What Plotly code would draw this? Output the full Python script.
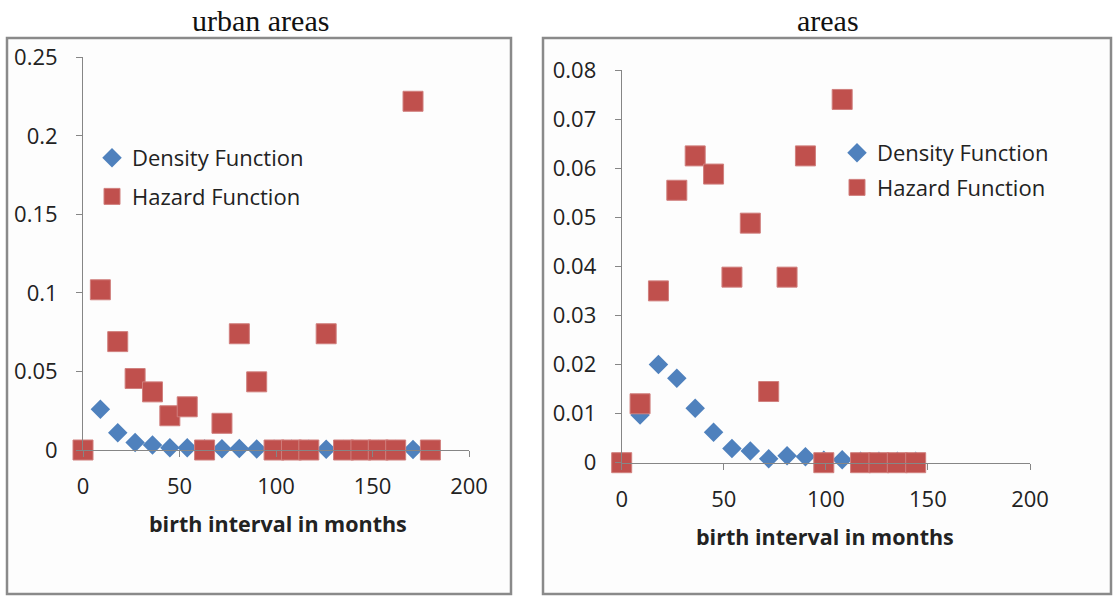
import plotly.graph_objects as go

# ---------------- data ----------------
months_urban = [0, 9, 18, 27, 36, 45, 54, 63, 72, 81, 90, 99, 108, 117, 126, 135, 144, 153, 162, 171, 180]
density_urban = [0.0, 0.026, 0.011, 0.0047, 0.0032, 0.0015, 0.0015, 0.0006, 0.0008, 0.001, 0.0006,
                 0.0004, 0.0004, 0.0004, 0.0005, 0.0003, 0.0003, 0.0003, 0.0003, 0.0003, 0.0]
hazard_urban = [0.0, 0.102, 0.069, 0.0455, 0.037, 0.0218, 0.0275, 0.0, 0.017, 0.074, 0.0434,
                0.0, 0.0, 0.0, 0.074, 0.0, 0.0, 0.0, 0.0, 0.222, 0.0]

months_areas = [0, 9, 18, 27, 36, 45, 54, 63, 72, 81, 90, 99, 108, 117, 126, 135, 144]
density_areas = [0.0, 0.0097, 0.02, 0.0172, 0.0111, 0.0062, 0.0029, 0.0024, 0.0008, 0.0014, 0.0012,
                 0.0005, 0.0006, 0.0003, 0.0003, 0.0003, 0.0003]
hazard_areas = [0.0, 0.012, 0.035, 0.0555, 0.0625, 0.0588, 0.0378, 0.0488, 0.0145, 0.0378, 0.0625,
                0.0, 0.074, 0.0, 0.0, 0.0, 0.0]

titles = ["urban areas", "areas"]
x_title = "birth interval in months"
legend_names = ["Density Function", "Hazard Function"]
x_ticks = [0, 50, 100, 150, 200]
y_ticks_left = [0, 0.05, 0.1, 0.15, 0.2, 0.25]
y_ticks_right = [0, 0.01, 0.02, 0.03, 0.04, 0.05, 0.06, 0.07, 0.08]

# ---------------- style ----------------
W, H = 1113, 597
BLUE = "#4F81BD"
RED = "#C0504D"
AXIS = "#868686"
FONT = "Open Sans"

def px(x):
    return x / W

def py(y):
    return 1 - y / H

fig = go.Figure()

def add_panel(n, months, dens, haz, legend_id):
    xa = "x" if n == 1 else "x2"
    ya = "y" if n == 1 else "y2"
    fig.add_trace(go.Scatter(
        x=months, y=dens, mode="markers", name=legend_names[0],
        marker=dict(symbol="diamond", size=15, color=BLUE, line=dict(width=0)),
        xaxis=xa, yaxis=ya, legend=legend_id, legendgroup="d%d" % n, cliponaxis=False))
    fig.add_trace(go.Scatter(
        x=months, y=haz, mode="markers", name=legend_names[1],
        marker=dict(symbol="square", size=20, color=RED, line=dict(width=1, color="#D07F7D")),
        xaxis=xa, yaxis=ya, legend=legend_id, legendgroup="h%d" % n, cliponaxis=False))

add_panel(1, months_urban, density_urban, hazard_urban, "legend")
add_panel(2, months_areas, density_areas, hazard_areas, "legend2")

axis_common = dict(
    showgrid=False, zeroline=False, showline=True, linecolor=AXIS, linewidth=1,
    ticks="outside", tickcolor=AXIS, ticklen=6, automargin=False,
    tickfont=dict(family=FONT, size=22, color="#222"),
)

fig.update_layout(
    width=W, height=H,
    margin=dict(l=0, r=0, t=0, b=0, pad=0, autoexpand=False),
    paper_bgcolor="white", plot_bgcolor="rgba(0,0,0,0)",
    showlegend=True,
    xaxis=dict(domain=[px(83), px(469)], range=[0, 200], tickvals=x_ticks, anchor="y",
               ticklabelstandoff=11, **axis_common),
    yaxis=dict(domain=[py(450), py(57.3)], range=[0, 0.25], tickvals=y_ticks_left,
               ticktext=[("%g" % v) for v in y_ticks_left], anchor="x",
               ticklabelstandoff=14, **axis_common),
    xaxis2=dict(domain=[px(621.7), px(1030)], range=[0, 200], tickvals=x_ticks, anchor="y2",
                ticklabelstandoff=11, **axis_common),
    yaxis2=dict(domain=[py(462.7), py(70)], range=[0, 0.08], tickvals=y_ticks_right,
                ticktext=[("%g" % v) for v in y_ticks_right], anchor="x2",
                ticklabelstandoff=14, **axis_common),
    legend=dict(x=px(92), y=py(137), xanchor="left", yanchor="top",
                bgcolor="rgba(0,0,0,0)", font=dict(family=FONT, size=22, color="#222"),
                traceorder="grouped", tracegroupgap=7, itemclick=False),
    legend2=dict(x=px(837), y=py(132), xanchor="left", yanchor="top",
                 bgcolor="rgba(0,0,0,0)", font=dict(family=FONT, size=22, color="#222"),
                 traceorder="grouped", tracegroupgap=3, itemclick=False),
)

# panel frames
for x0, x1 in [(7, 511), (543, 1111)]:
    fig.add_shape(type="rect", xref="paper", yref="paper",
                  x0=px(x0), x1=px(x1), y0=py(594), y1=py(38),
                  line=dict(color="#8a8a8a", width=2.5), fillcolor="rgba(253,253,253,1)",
                  layer="below")

# titles
for txt, cx in [(titles[0], 260), (titles[1], 828)]:
    fig.add_annotation(text=txt, xref="paper", yref="paper", x=px(cx), y=py(20),
                       xanchor="center", yanchor="middle", showarrow=False,
                       font=dict(family="Liberation Serif", size=30, color="#111"))

# x axis titles
for cx, cy in [(278, 523), (825, 536)]:
    fig.add_annotation(text="<b>%s</b>" % x_title, xref="paper", yref="paper",
                       x=px(cx), y=py(cy), xanchor="center", yanchor="middle",
                       showarrow=False, font=dict(family=FONT, size=21.5, color="#222"))

fig.write_html("out.html")
